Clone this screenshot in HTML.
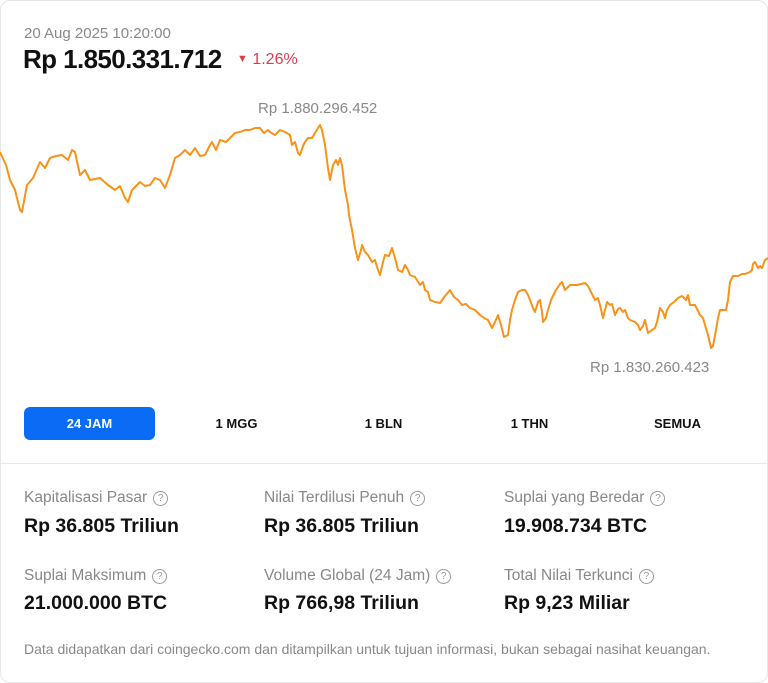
<!DOCTYPE html>
<html><head><style>
*{margin:0;padding:0;box-sizing:border-box}
body{width:768px;height:683px;background:#fff;font-family:"Liberation Sans",sans-serif;position:relative;overflow:hidden}
.card{position:absolute;left:0;top:0;width:768px;height:683px;border:1px solid #e6e6e6;border-radius:10px}
.t{position:absolute;white-space:nowrap}
.lbl{color:#888;font-size:15.5px}
.val{color:#111;font-size:19.5px;font-weight:bold}
.q{display:inline-block;width:15px;height:15px;border:1.3px solid #999;border-radius:50%;font-size:10px;text-align:center;line-height:13px;color:#999;margin-left:6px;vertical-align:1px}
.btn{position:absolute;top:407px;height:33px;line-height:33px;font-size:13px;font-weight:bold;color:#111;text-align:center;width:131px}
</style></head><body>
<div class="card"></div>
<div class="t" style="left:24px;top:25px;font-size:15px;color:#888">20 Aug 2025 10:20:00</div>
<div class="t" style="left:23px;top:44px;font-size:26px;font-weight:bold;color:#111;letter-spacing:-0.6px">Rp 1.850.331.712</div>
<div class="t" style="left:237px;top:51px;font-size:16px;color:#e0394a"><span style="font-size:11px;vertical-align:2px">▼</span> 1.26%</div>
<div class="t" style="left:258px;top:100px;font-size:15px;color:#888">Rp 1.880.296.452</div>
<div class="t" style="left:590px;top:359px;font-size:15px;color:#888">Rp 1.830.260.423</div>
<svg style="position:absolute;left:0;top:0" width="768" height="400">
<polyline fill="none" stroke="#f7931a" stroke-width="2" stroke-linejoin="round" points="0,152 6,165 10,180 15,190 20,210 22,212 27,185 33,178 40,162 45,168 50,158 56,156 62,155 68,160 72,150 75,152 80,175 85,170 90,180 100,178 108,185 115,190 120,186 125,198 128,202 132,190 140,182 145,186 150,185 155,178 160,180 165,188 170,175 175,158 180,155 185,150 190,155 195,148 200,156 205,155 210,145 212,142 216,150 220,140 226,142 230,138 235,133 240,132 245,130 250,130 255,128 260,128 264,133 268,130 270,132 275,135 280,130 285,132 290,135 292,145 295,142 298,153 300,155 303,146 305,142 308,138 312,138 315,133 318,128 320,125 322,130 325,145 328,168 330,180 333,165 336,160 338,165 340,158 342,165 345,190 348,205 349,215 352,230 355,248 358,260 361,250 362,245 365,252 368,255 372,262 375,260 378,270 380,275 383,262 385,255 389,256 392,248 395,258 398,270 402,272 405,265 408,270 410,275 415,277 420,285 423,282 425,290 428,292 430,300 435,302 440,303 445,296 450,290 454,297 458,300 462,305 466,304 470,308 475,310 480,315 484,318 488,320 490,324 492,328 495,322 498,315 501,325 504,337 508,335 510,320 512,310 515,300 518,292 522,290 525,290 528,295 530,300 533,308 535,312 538,302 540,300 542,312 543,322 546,318 548,310 551,300 554,294 556,290 560,284 562,282 565,290 570,285 577,285 585,283 588,286 590,290 595,300 598,298 600,305 603,318 605,310 607,302 610,305 612,304 615,315 618,309 620,308 623,312 625,310 628,318 630,320 635,322 638,325 640,330 643,326 645,320 648,333 652,330 655,328 657,322 660,308 663,312 665,318 667,310 670,305 674,302 678,298 682,296 686,300 688,295 690,305 695,305 700,315 703,318 705,325 708,335 711,348 713,346 716,330 718,318 720,310 726,310 728,300 730,282 733,276 738,276 742,274 745,274 750,272 752,270 753,264 755,262 758,268 760,266 762,268 765,260 768,258"/>
</svg>
<div class="btn" style="left:24px;background:#0a6cf5;color:#fff;border-radius:6px">24 JAM</div>
<div class="btn" style="left:171px">1 MGG</div>
<div class="btn" style="left:318px">1 BLN</div>
<div class="btn" style="left:464px">1 THN</div>
<div class="btn" style="left:612px">SEMUA</div>
<div style="position:absolute;left:1px;top:463px;width:766px;height:1px;background:#e8e8e8"></div>
<div class="t lbl" style="left:24px;top:489px">Kapitalisasi Pasar<span class="q">?</span></div>
<div class="t val" style="left:24px;top:515px">Rp 36.805 Triliun</div>
<div class="t lbl" style="left:264px;top:489px">Nilai Terdilusi Penuh<span class="q">?</span></div>
<div class="t val" style="left:264px;top:515px">Rp 36.805 Triliun</div>
<div class="t lbl" style="left:504px;top:489px">Suplai yang Beredar<span class="q">?</span></div>
<div class="t val" style="left:504px;top:515px">19.908.734 BTC</div>
<div class="t lbl" style="left:24px;top:567px">Suplai Maksimum<span class="q">?</span></div>
<div class="t val" style="left:24px;top:592px">21.000.000 BTC</div>
<div class="t lbl" style="left:264px;top:567px">Volume Global (24 Jam)<span class="q">?</span></div>
<div class="t val" style="left:264px;top:592px">Rp 766,98 Triliun</div>
<div class="t lbl" style="left:504px;top:567px">Total Nilai Terkunci<span class="q">?</span></div>
<div class="t val" style="left:504px;top:592px">Rp 9,23 Miliar</div>
<div class="t" style="left:24px;top:641px;font-size:14px;color:#888">Data didapatkan dari coingecko.com dan ditampilkan untuk tujuan informasi, bukan sebagai nasihat keuangan.</div>
</body></html>
